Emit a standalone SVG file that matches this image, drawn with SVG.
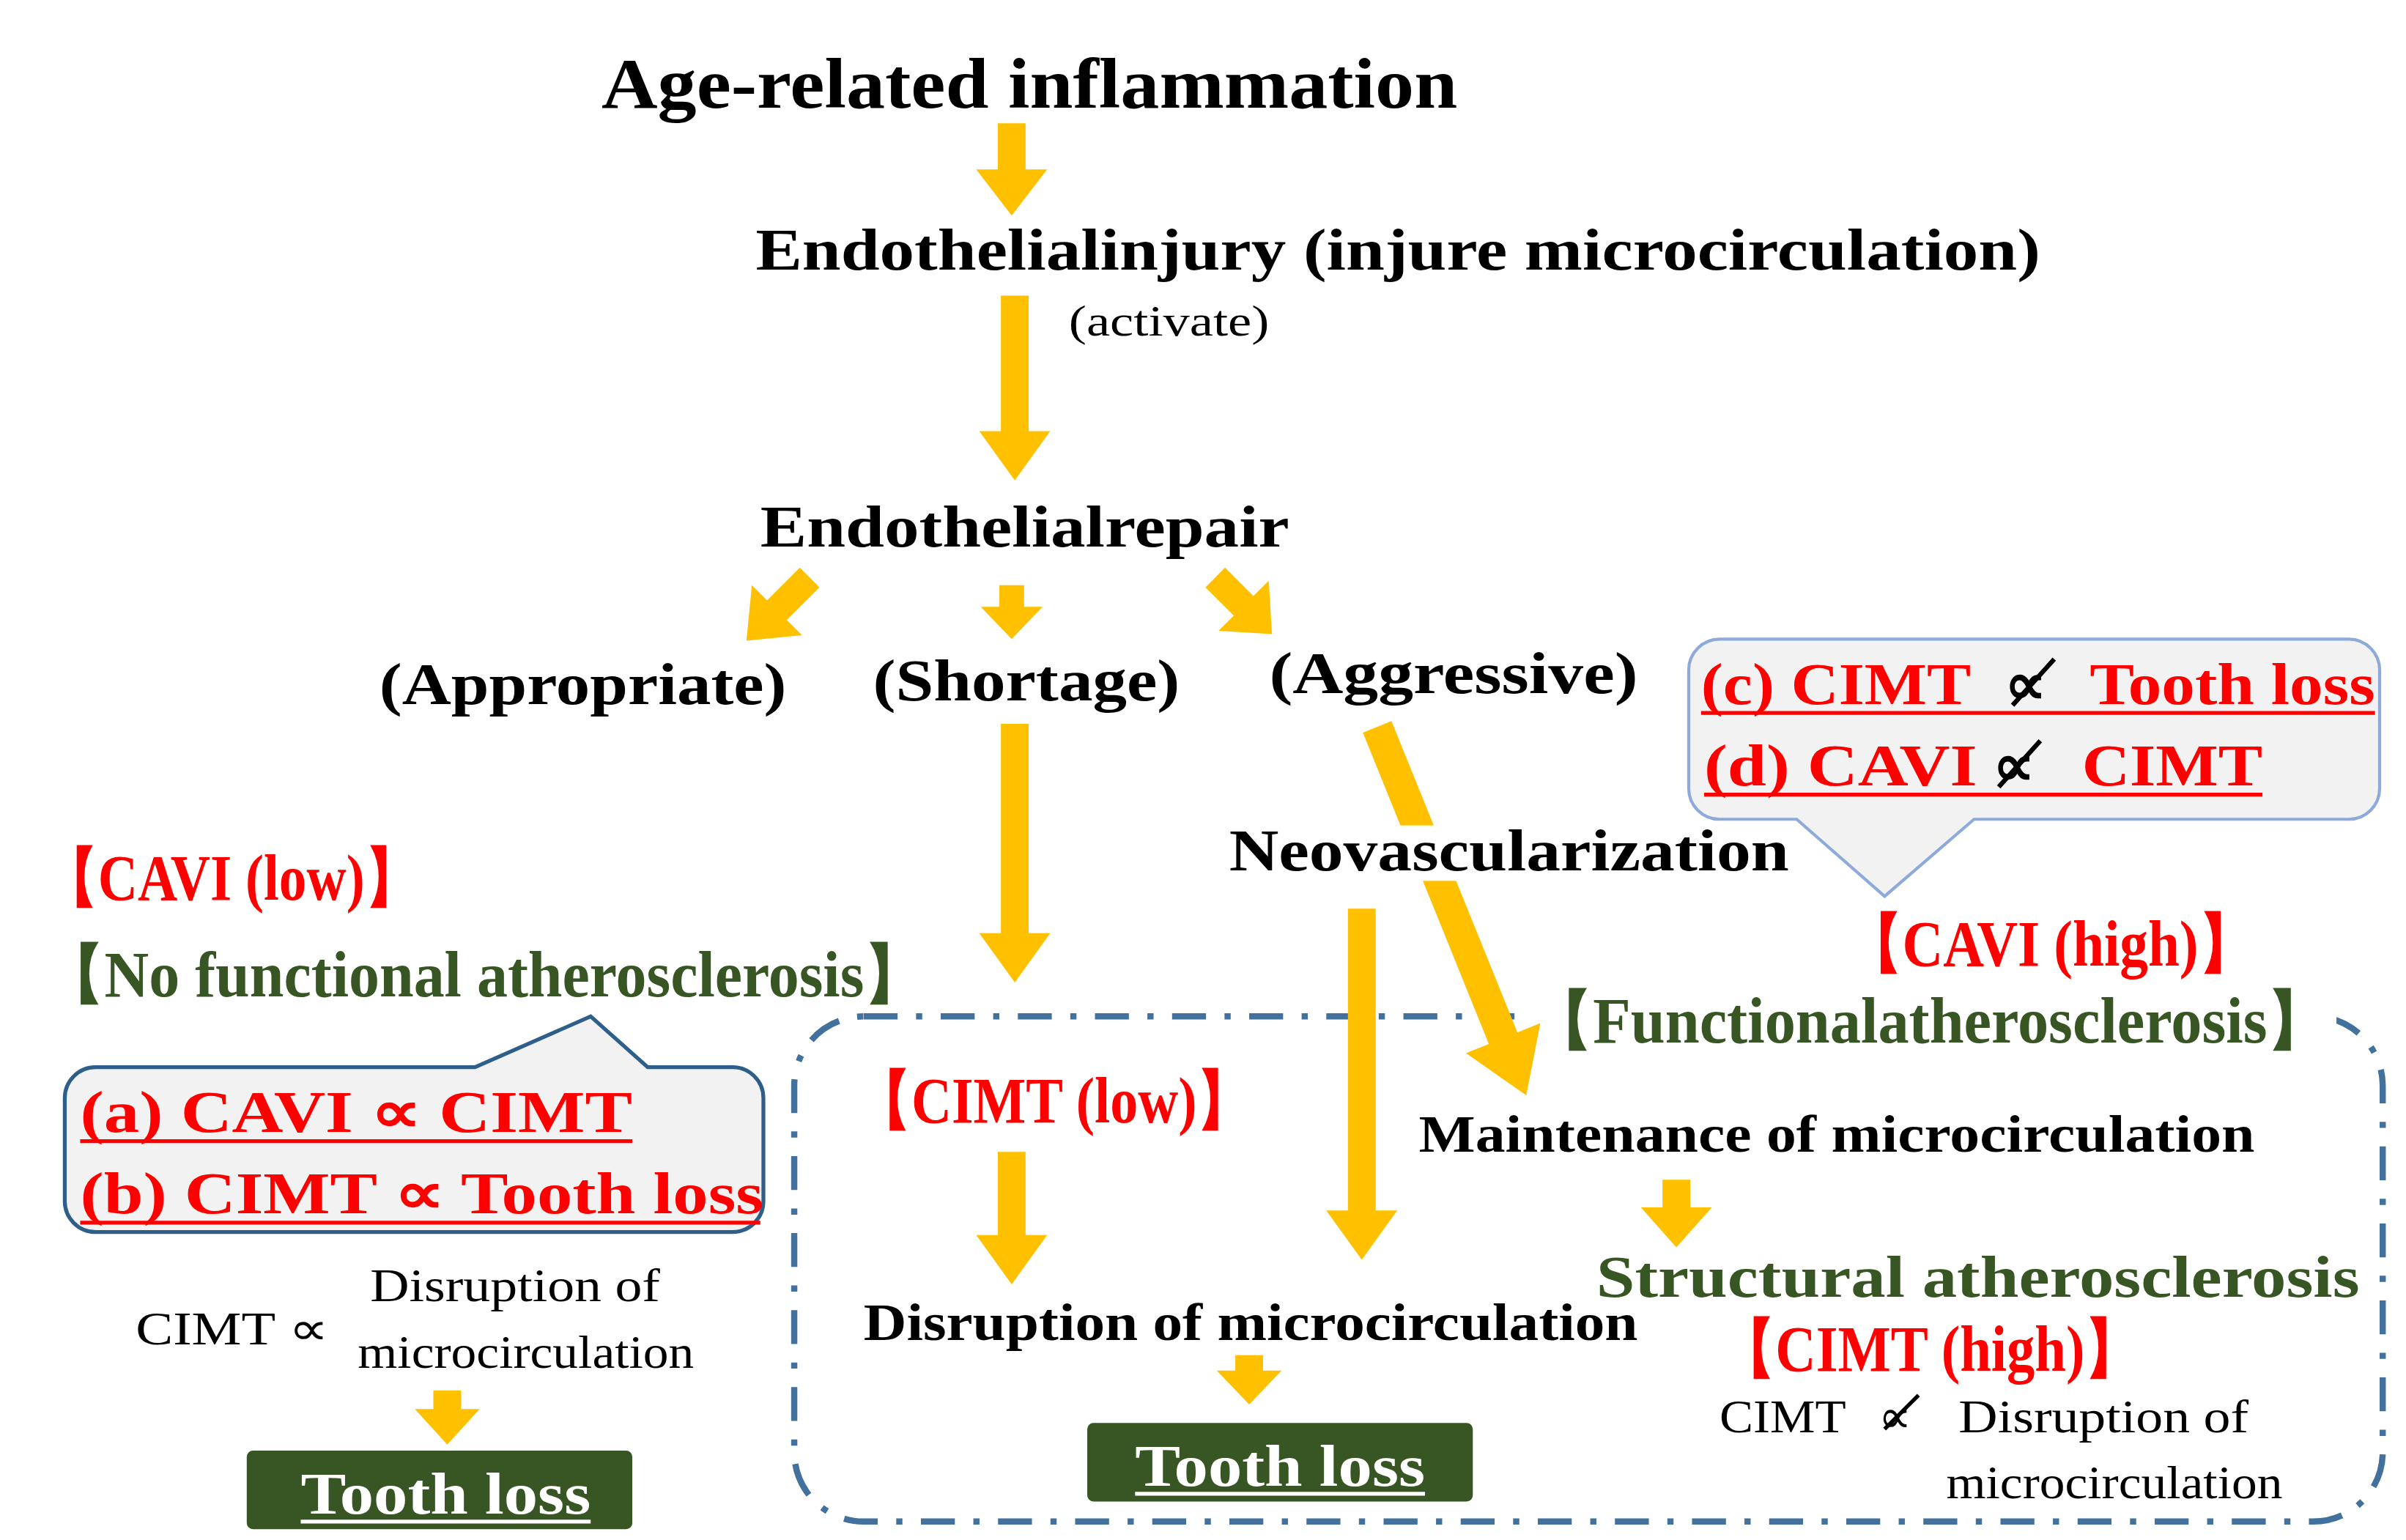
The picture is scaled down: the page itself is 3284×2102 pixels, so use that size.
<svg xmlns="http://www.w3.org/2000/svg" width="3284" height="2102" viewBox="0 0 3284 2102">
<style>
.t{font-family:"Liberation Serif",serif;font-weight:bold}
.n{font-family:"Liberation Serif",serif}
.k{fill:#000}
.r{fill:#ff0000}
.g{fill:#375623}
.ar{fill:#ffc000}
.ul{stroke:#ff0000;stroke-width:2.5}
</style>
<rect width="3284" height="2102" fill="#fff"/>
<g transform="scale(2.105,2.102)">
<g id="container">
<rect x="515" y="660" width="1030" height="328" rx="45" fill="none" stroke="#41719c" stroke-width="4" stroke-dasharray="22,12,4,12"/>
</g>
<g id="func"><rect x="990" y="645" width="525" height="40" fill="#fff"/><text class="t g" x="993" y="677" font-size="42" textLength="517" lengthAdjust="spacingAndGlyphs">【Functionalatherosclerosis】</text></g>
<g id="connectors">
<path class="ar" d="M647,80h18v30h14l-23,30l-23,-30h14z"/>
<path class="ar" d="M649,192h18v88h14l-23,32l-23,-32h14z"/>
<path class="ar" transform="translate(525,375) rotate(45)" d="M-9,0h18v30h14l-23,28l-23,-28h14z"/>
<path class="ar" d="M648,380h16v14h12l-20,21l-20,-21h12z"/>
<path class="ar" transform="translate(788,375) rotate(-45)" d="M-9,0h18v26h14l-23,26l-23,-26h14z"/>
<path class="ar" d="M649,470h18v136h14l-23,32l-23,-32h14z"/>
<path class="ar" transform="translate(893,472) rotate(-22)" d="M-10,0h20v218h16l-26,40l-26,-40h16z"/>
<path class="ar" d="M647,748h18v54h14l-23,32l-23,-32h14z"/>
<path class="ar" d="M874,590h18v196h14l-23,32l-23,-32h14z"/>
<path class="ar" d="M1078,766h18v18h14l-23,26l-23,-26h14z"/>
<path class="ar" d="M801,880h18v10h12l-21,22l-21,-22h12z"/>
<path class="ar" d="M281,903h18v12h12l-21,23l-21,-23h12z"/>
</g>
<g id="title"><text class="t k" x="390" y="70" font-size="46" textLength="555" lengthAdjust="spacingAndGlyphs">Age-related inflammation</text></g>
<g id="injury"><text class="t k" x="490" y="175" font-size="38" textLength="833" lengthAdjust="spacingAndGlyphs">Endothelialinjury (injure microcirculation)</text>
<text class="n k" x="693" y="218" font-size="28" textLength="130" lengthAdjust="spacingAndGlyphs">(activate)</text></g>
<g id="repair"><text class="t k" x="493" y="355" font-size="38" textLength="343" lengthAdjust="spacingAndGlyphs">Endothelialrepair</text></g>
<g id="appropriate"><text class="t k" x="246" y="457" font-size="38" textLength="264" lengthAdjust="spacingAndGlyphs">(Appropriate)</text></g>
<g id="shortage"><text class="t k" x="566" y="455" font-size="38" textLength="199" lengthAdjust="spacingAndGlyphs">(Shortage)</text></g>
<g id="aggressive"><text class="t k" x="823" y="450" font-size="38" textLength="239" lengthAdjust="spacingAndGlyphs">(Aggressive)</text></g>
<g id="neo"><rect x="795" y="536" width="368" height="36" fill="#fff"/><text class="t k" x="797" y="565" font-size="38" textLength="363" lengthAdjust="spacingAndGlyphs">Neovascularization</text></g>
<g id="callout-cd">
<path d="M1115,415h408a20,20 0 0 1 20,20v77a20,20 0 0 1 -20,20h-243l-58,50l-57,-50h-50a20,20 0 0 1 -20,-20v-77a20,20 0 0 1 20,-20z" fill="#f2f2f2" stroke="#8eaadb" stroke-width="2"/>
<text class="t r" x="1103" y="457" font-size="38"><tspan textLength="175" lengthAdjust="spacingAndGlyphs">(c) CIMT</tspan><tspan x="1300" class="k">∝</tspan><tspan x="1355" textLength="185" lengthAdjust="spacingAndGlyphs">Tooth loss</tspan></text>
<line class="ul" x1="1103" y1="463" x2="1540" y2="463"/>
<line x1="1305" y1="458" x2="1332" y2="428" stroke="#000" stroke-width="3"/>
<text class="t r" x="1105" y="510" font-size="38"><tspan textLength="177" lengthAdjust="spacingAndGlyphs">(d) CAVI</tspan><tspan x="1292" class="k">∝</tspan><tspan x="1350" textLength="117" lengthAdjust="spacingAndGlyphs">CIMT</tspan></text>
<line class="ul" x1="1105" y1="516" x2="1467" y2="516"/>
<line x1="1296" y1="511" x2="1323" y2="481" stroke="#000" stroke-width="3"/>
</g>
<g id="cavi-high"><text class="t r" x="1197" y="627" font-size="42" textLength="265" lengthAdjust="spacingAndGlyphs">【CAVI (high)】</text></g>
<g id="cavi-low"><text class="t r" x="28" y="584" font-size="42" textLength="244" lengthAdjust="spacingAndGlyphs">【CAVI (low)】</text></g>
<g id="no-func"><text class="t g" x="28" y="647" font-size="42" textLength="572" lengthAdjust="spacingAndGlyphs">【No functional atherosclerosis】</text></g>
<g id="callout-ab">
<path d="M62,693h246l75,-33l37,33h55a20,20 0 0 1 20,20v67a20,20 0 0 1 -20,20h-413a20,20 0 0 1 -20,-20v-67a20,20 0 0 1 20,-20z" fill="#f2f2f2" stroke="#2e5f8a" stroke-width="2.5"/>
<text class="t r" x="52" y="735" font-size="38" textLength="358" lengthAdjust="spacingAndGlyphs">(a) CAVI  ∝ CIMT</text>
<line class="ul" x1="52" y1="741" x2="410" y2="741"/>
<text class="t r" x="52" y="788" font-size="38" textLength="443" lengthAdjust="spacingAndGlyphs">(b) CIMT  ∝ Tooth loss</text>
<line class="ul" x1="52" y1="794" x2="493" y2="794"/>
</g>
<g id="left-disruption">
<text class="n k" x="88" y="873" font-size="30" textLength="125" lengthAdjust="spacingAndGlyphs">CIMT ∝</text>
<text class="n k" x="240" y="845" font-size="30" textLength="188" lengthAdjust="spacingAndGlyphs">Disruption of</text>
<text class="n k" x="232" y="888" font-size="30" textLength="218" lengthAdjust="spacingAndGlyphs">microcirculation</text>
</g>
<g id="tooth-left"><rect x="160" y="942" width="250" height="51" rx="4" fill="#375623"/>
<text class="t" fill="#fff" x="195" y="983" font-size="38" textLength="188" lengthAdjust="spacingAndGlyphs">Tooth loss</text>
<line x1="195" y1="988" x2="383" y2="988" stroke="#fff" stroke-width="2.5"/></g>
<g id="cimt-low"><text class="t r" x="555" y="729" font-size="42" textLength="257" lengthAdjust="spacingAndGlyphs">【CIMT (low)】</text></g>
<g id="maintenance"><text class="t k" x="920" y="748" font-size="34" textLength="542" lengthAdjust="spacingAndGlyphs">Maintenance of microcirculation</text></g>
<g id="structural"><text class="t g" x="1035" y="842" font-size="38" textLength="495" lengthAdjust="spacingAndGlyphs">Structural atherosclerosis</text></g>
<g id="disruption"><text class="t k" x="560" y="870" font-size="34" textLength="502" lengthAdjust="spacingAndGlyphs">Disruption of microcirculation</text></g>
<g id="tooth-mid"><rect x="705" y="924" width="250" height="51" rx="4" fill="#375623"/>
<text class="t" fill="#fff" x="736" y="965" font-size="38" textLength="188" lengthAdjust="spacingAndGlyphs">Tooth loss</text>
<line x1="736" y1="970" x2="924" y2="970" stroke="#fff" stroke-width="2.5"/></g>
<g id="cimt-high"><text class="t r" x="1115" y="890" font-size="42" textLength="273" lengthAdjust="spacingAndGlyphs">【CIMT (high)】</text></g>
<g id="right-disruption">
<text class="n k" x="1115" y="930" font-size="30" textLength="82" lengthAdjust="spacingAndGlyphs">CIMT</text>
<text class="n k" x="1218" y="930" font-size="30">∝</text>
<line x1="1222" y1="928" x2="1244" y2="906" stroke="#000" stroke-width="2.5"/>
<text class="n k" x="1270" y="930" font-size="30" textLength="188" lengthAdjust="spacingAndGlyphs">Disruption of</text>
<text class="n k" x="1262" y="973" font-size="30" textLength="218" lengthAdjust="spacingAndGlyphs">microcirculation</text>
</g>
</g>
</svg>
